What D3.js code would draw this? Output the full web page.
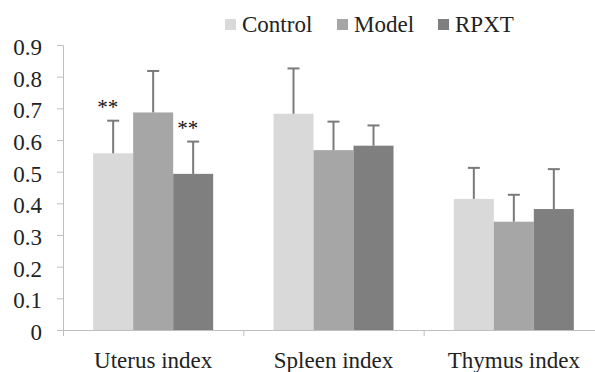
<!DOCTYPE html>
<html>
<head>
<meta charset="utf-8">
<script src="https://cdn.jsdelivr.net/npm/d3@7"></script>
<style>
html body svg#chart text { font-family: "Liberation Serif", "Tinos", "Times New Roman" !important; }
</style>
</head>
<body style="margin:0">
<svg id="chart" width="595" height="372" font-family="Liberation Serif"></svg>
<script>
const categories = ["Uterus index", "Spleen index", "Thymus index"];
const seriesNames = ["Control", "Model", "RPXT"];
const seriesColors = ["#d9d9d9", "#a6a6a6", "#7f7f7f"];
const controlMeans = [0.558, 0.683, 0.414];
const modelMeans   = [0.687, 0.568, 0.342];
const rpxtMeans    = [0.493, 0.582, 0.382];
const controlErr   = [0.103, 0.143, 0.098];
const modelErr     = [0.131, 0.090, 0.085];
const rpxtErr      = [0.102, 0.064, 0.126];
const significance = [["**", "", "**"], ["", "", ""], ["", "", ""]];
const yTicks = [0, 0.1, 0.2, 0.3, 0.4, 0.5, 0.6, 0.7, 0.8, 0.9];
const legendX = [225, 337, 438];

const means = [controlMeans, modelMeans, rpxtMeans];
const errs = [controlErr, modelErr, rpxtErr];

const svg = d3.select("#chart");
const mLeft = 63, mRight = 604, mTop = 45, mBottom = 330;

const x0 = d3.scaleBand().domain(categories).range([mLeft, mRight]).paddingInner(0).paddingOuter(0);
const x1 = d3.scaleBand().domain(seriesNames).range([0, 120]);
const y = d3.scaleLinear().domain([0, 0.9]).range([mBottom, mTop]);
const groupOffset = (x0.bandwidth() - 120) / 2;

const data = [];
categories.forEach((c, i) => {
  seriesNames.forEach((s, j) => {
    data.push({cat: c, ser: s, ci: i, si: j, v: means[j][i], e: errs[j][i], sig: significance[i][j]});
  });
});

function serif(sel, size) {
  sel.attr("font-family", "Liberation Serif")
     .style("font-family", '"Liberation Serif", "Tinos", "Times New Roman"', "important")
     .style("font-size", size);
}

// axes
const axisColor = "#bfbfbf";
const yAxis = svg.append("g").attr("transform", `translate(${mLeft},0)`)
  .call(d3.axisLeft(y).tickValues(yTicks).tickSize(6).tickPadding(15).tickFormat(d => d === 0 ? "0" : d3.format(".1f")(d)));
yAxis.attr("font-family", "Liberation Serif").attr("font-size", null);
yAxis.select(".domain").attr("stroke", axisColor).attr("stroke-width", 1);
yAxis.selectAll(".tick line").attr("stroke", axisColor);
yAxis.selectAll(".tick text").attr("dy", null).attr("y", 9.5).attr("fill", "#222").call(serif, "23px");

// bars
const g = svg.append("g");
g.selectAll("rect.bar").data(data).enter().append("rect")
  .attr("class", "bar")
  .attr("x", d => x0(d.cat) + groupOffset + x1(d.ser))
  .attr("y", d => y(d.v))
  .attr("width", x1.bandwidth())
  .attr("height", d => mBottom - y(d.v))
  .attr("fill", (d) => seriesColors[d.si]);

// error bars
const errColor = "#7a7a7a";
const eb = g.selectAll("g.err").data(data).enter().append("g").attr("class", "err");
eb.append("line")
  .attr("x1", d => x0(d.cat) + groupOffset + x1(d.ser) + x1.bandwidth() / 2)
  .attr("x2", d => x0(d.cat) + groupOffset + x1(d.ser) + x1.bandwidth() / 2)
  .attr("y1", d => y(d.v))
  .attr("y2", d => y(d.v + d.e))
  .attr("stroke", errColor).attr("stroke-width", 2);
eb.append("line")
  .attr("x1", d => x0(d.cat) + groupOffset + x1(d.ser) + x1.bandwidth() / 2 - 6)
  .attr("x2", d => x0(d.cat) + groupOffset + x1(d.ser) + x1.bandwidth() / 2 + 6)
  .attr("y1", d => y(d.v + d.e))
  .attr("y2", d => y(d.v + d.e))
  .attr("stroke", errColor).attr("stroke-width", 2);

// significance marks
g.selectAll("text.sig").data(data.filter(d => d.sig)).enter().append("text")
  .attr("class", "sig")
  .attr("x", d => x0(d.cat) + groupOffset + x1(d.ser) + x1.bandwidth() / 2 - 5.5)
  .attr("y", d => y(d.v + d.e) - 7)
  .attr("text-anchor", "middle")
  .attr("fill", "#111")
  .call(serif, "21px")
  .text(d => d.sig);

// x axis
const xAxis = svg.append("g").attr("transform", `translate(0,${mBottom})`)
  .call(d3.axisBottom(x0).tickSize(0).tickPadding(37.5));
xAxis.attr("font-family", "Liberation Serif").attr("font-size", null);
xAxis.select(".domain").attr("stroke", axisColor).attr("d", `M${mLeft},0.5H${mRight}`);
xAxis.selectAll(".tick text").attr("dy", null).attr("fill", "#222").call(serif, "23px");
// category boundary ticks
const bounds = categories.map(c => x0(c)).concat([mRight]);
xAxis.selectAll("line.bound").data(bounds).enter().append("line")
  .attr("class", "bound")
  .attr("x1", d => d + 0.5).attr("x2", d => d + 0.5)
  .attr("y1", 0).attr("y2", 6)
  .attr("stroke", axisColor);

// legend
const legend = svg.append("g");
seriesNames.forEach((s, i) => {
  legend.append("rect").attr("x", legendX[i]).attr("y", 19).attr("width", 11).attr("height", 11).attr("fill", seriesColors[i]);
  legend.append("text").attr("x", legendX[i] + 17).attr("y", 32)
    .attr("fill", "#222").call(serif, "23px").text(s);
});
</script>
</body>
</html>
